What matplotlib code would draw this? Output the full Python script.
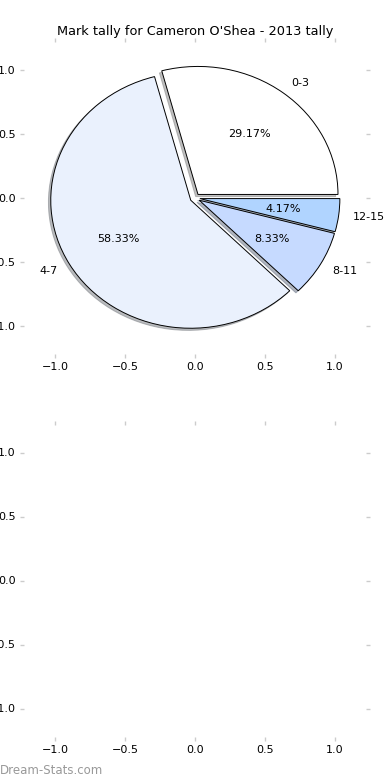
import matplotlib
matplotlib.use("Agg")
import matplotlib.pyplot as plt
import numpy as np

title = "Mark tally for Cameron O'Shea - 2013 tally"
categories = ["0-3", "4-7", "8-11", "12-15"]
values = [7, 14, 2, 1]
colors = ["#FFFFFF", "#EAF1FD", "#C6DAFF", "#B0D4FF"]
explode = [0.035, 0.035, 0.035, 0.035]
ticks = [-1.0, -0.5, 0.0, 0.5, 1.0]

fig = plt.figure(figsize=(3.9, 7.8), dpi=100)
ax1 = fig.add_axes([20/390, (780-358)/780, 350/390, 320/780])
ax2 = fig.add_axes([20/390, (780-740.5)/780, 350/390, 320/780])

wedges, texts, autotexts = ax1.pie(
    values, labels=categories, colors=colors, explode=explode,
    autopct="%1.2f%%", shadow=dict(ox=-0.012, oy=-0.012, shade=0.5),
    startangle=0,
    wedgeprops=dict(edgecolor="black", linewidth=0.7),
    textprops=dict(fontsize=8))

for ax in (ax1, ax2):
    ax.set_aspect("auto")
    ax.set_frame_on(False)
    ax.set_xlim(-1.25, 1.25)
    ax.set_ylim(-1.25, 1.25)
    ax.set_xticks(ticks)
    ax.set_yticks(ticks)
    ax.tick_params(direction="in", length=3, width=1, color="#cccccc",
                   labelsize=8, top=True, right=True, pad=3)

ax1.set_title(title, fontsize=9.3, pad=2)

fig.text(0.0, 0.004, "Dream-Stats.com", color="#999999", fontsize=8.5,
         ha="left", va="bottom")

fig.savefig("out.png", dpi=100)
